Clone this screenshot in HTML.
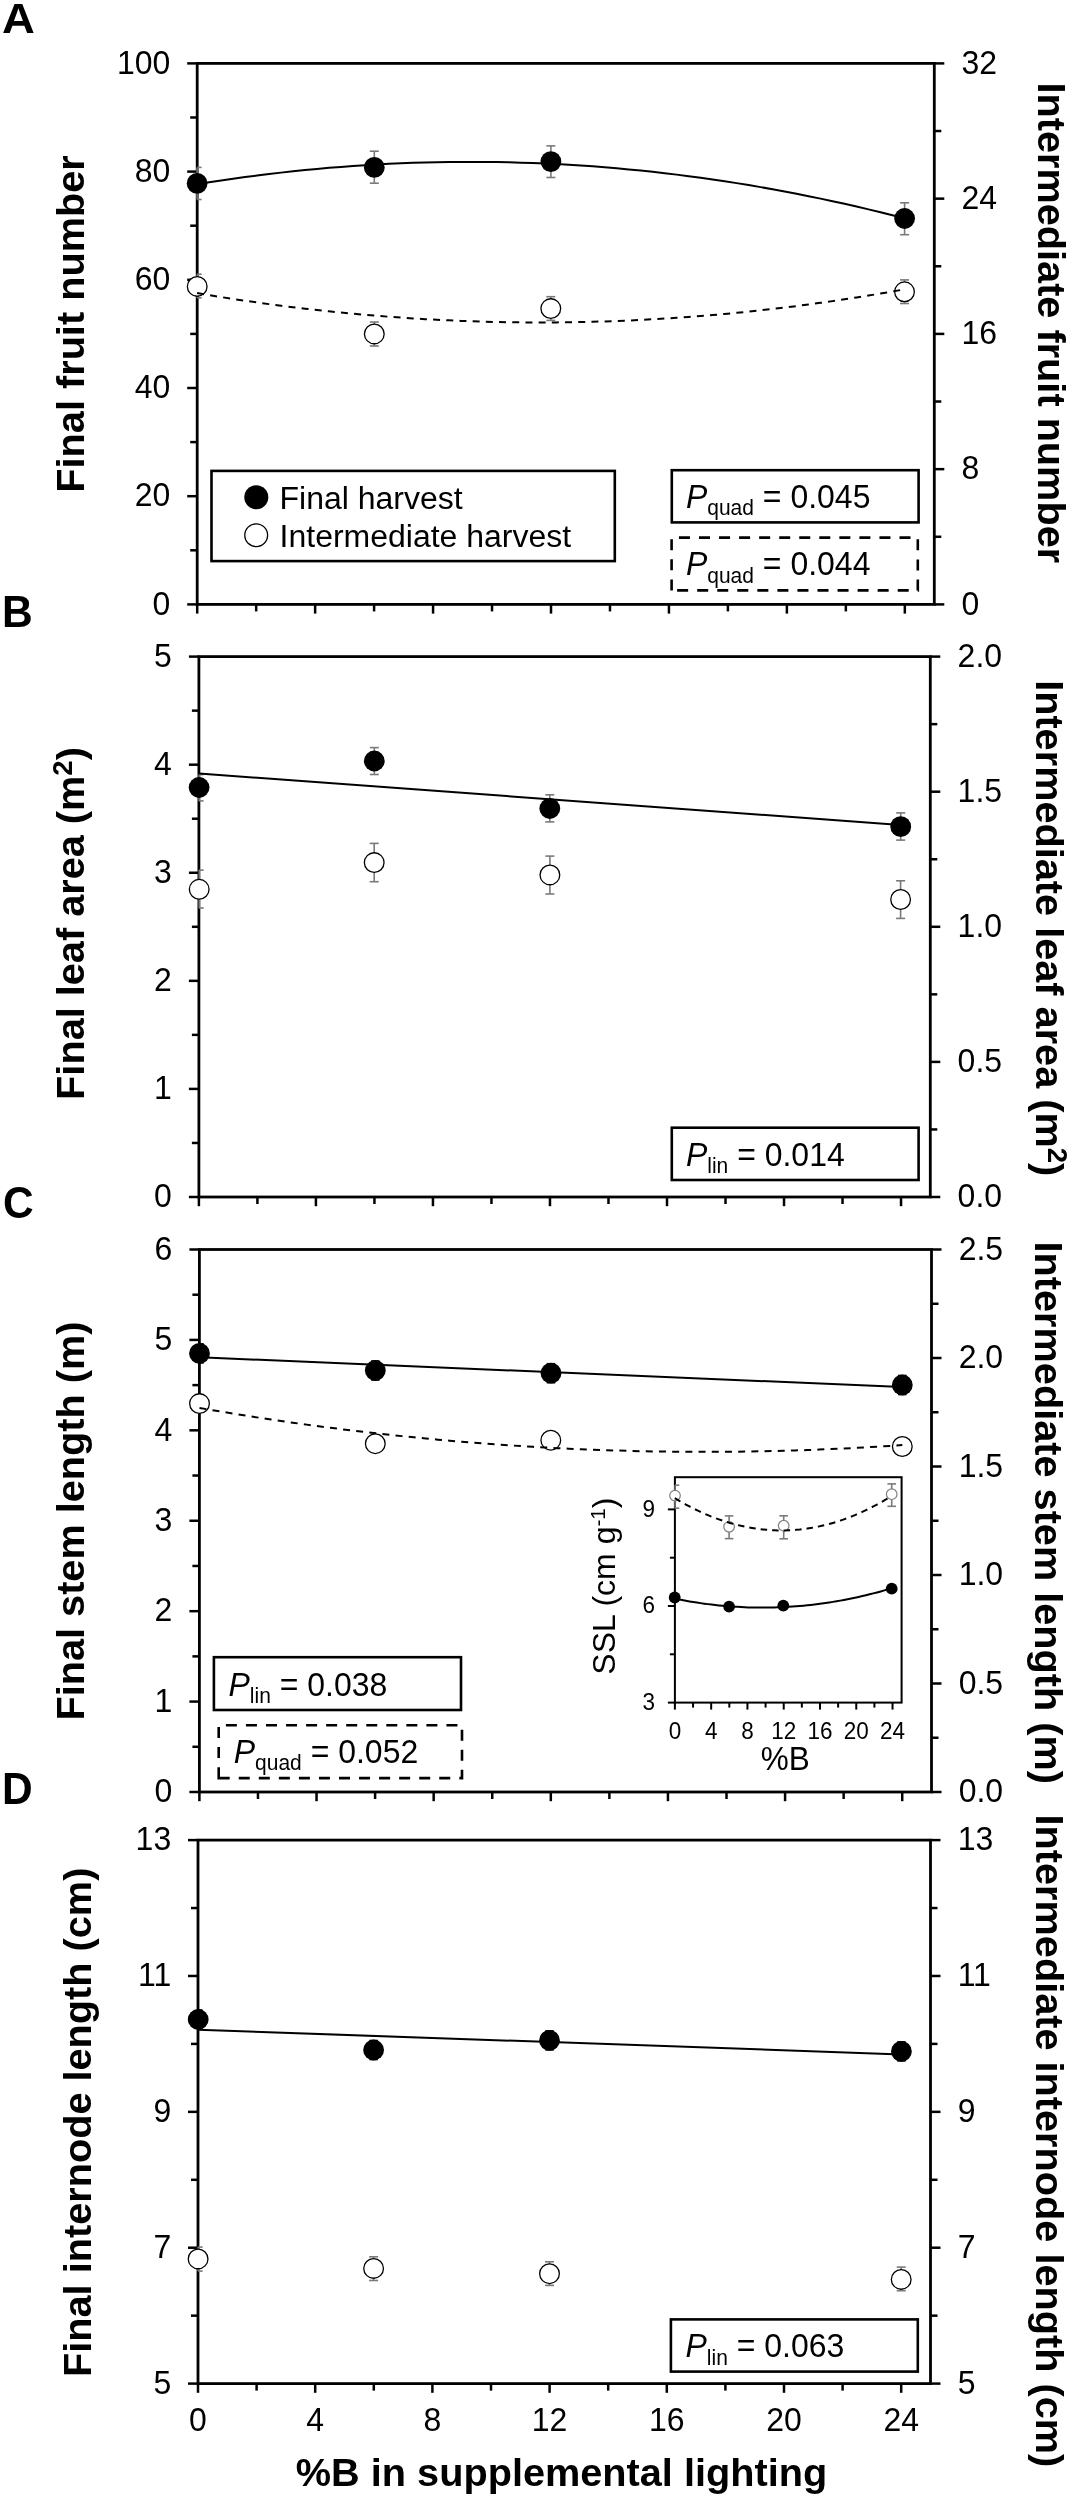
<!DOCTYPE html>
<html><head><meta charset="utf-8"><style>
html,body{margin:0;padding:0;background:#fff;width:1073px;height:2500px;overflow:hidden}
svg text{font-family:"Liberation Sans",sans-serif}
svg{will-change:transform}
</style></head><body>
<svg width="1073" height="2500" viewBox="0 0 1073 2500" style="position:absolute;left:0;top:0">
<g font-family="Liberation Sans, sans-serif" fill="#000">
<rect x="197.2" y="63.4" width="737.1" height="541" fill="none" stroke="#000" stroke-width="2.8"/>
<line x1="187.2" y1="604.4" x2="197.2" y2="604.4" stroke="#000" stroke-width="2.5" />
<text transform="translate(170.3,614.6) scale(1,1.035)" font-size="32" text-anchor="end" font-weight="normal" font-style="normal" >0</text>
<line x1="190.2" y1="550.3" x2="197.2" y2="550.3" stroke="#000" stroke-width="2.5" />
<line x1="187.2" y1="496.2" x2="197.2" y2="496.2" stroke="#000" stroke-width="2.5" />
<text transform="translate(170.3,506.4) scale(1,1.035)" font-size="32" text-anchor="end" font-weight="normal" font-style="normal" >20</text>
<line x1="190.2" y1="442.1" x2="197.2" y2="442.1" stroke="#000" stroke-width="2.5" />
<line x1="187.2" y1="388" x2="197.2" y2="388" stroke="#000" stroke-width="2.5" />
<text transform="translate(170.3,398.2) scale(1,1.035)" font-size="32" text-anchor="end" font-weight="normal" font-style="normal" >40</text>
<line x1="190.2" y1="333.9" x2="197.2" y2="333.9" stroke="#000" stroke-width="2.5" />
<line x1="187.2" y1="279.8" x2="197.2" y2="279.8" stroke="#000" stroke-width="2.5" />
<text transform="translate(170.3,290) scale(1,1.035)" font-size="32" text-anchor="end" font-weight="normal" font-style="normal" >60</text>
<line x1="190.2" y1="225.7" x2="197.2" y2="225.7" stroke="#000" stroke-width="2.5" />
<line x1="187.2" y1="171.6" x2="197.2" y2="171.6" stroke="#000" stroke-width="2.5" />
<text transform="translate(170.3,181.8) scale(1,1.035)" font-size="32" text-anchor="end" font-weight="normal" font-style="normal" >80</text>
<line x1="190.2" y1="117.5" x2="197.2" y2="117.5" stroke="#000" stroke-width="2.5" />
<line x1="187.2" y1="63.4" x2="197.2" y2="63.4" stroke="#000" stroke-width="2.5" />
<text transform="translate(170.3,73.6) scale(1,1.035)" font-size="32" text-anchor="end" font-weight="normal" font-style="normal" >100</text>
<line x1="934.3" y1="604.4" x2="944.3" y2="604.4" stroke="#000" stroke-width="2.5" />
<text transform="translate(961.4,614.6) scale(1,1.035)" font-size="32" text-anchor="start" font-weight="normal" font-style="normal" >0</text>
<line x1="934.3" y1="536.77" x2="941.3" y2="536.77" stroke="#000" stroke-width="2.5" />
<line x1="934.3" y1="469.15" x2="944.3" y2="469.15" stroke="#000" stroke-width="2.5" />
<text transform="translate(961.4,479.35) scale(1,1.035)" font-size="32" text-anchor="start" font-weight="normal" font-style="normal" >8</text>
<line x1="934.3" y1="401.52" x2="941.3" y2="401.52" stroke="#000" stroke-width="2.5" />
<line x1="934.3" y1="333.9" x2="944.3" y2="333.9" stroke="#000" stroke-width="2.5" />
<text transform="translate(961.4,344.1) scale(1,1.035)" font-size="32" text-anchor="start" font-weight="normal" font-style="normal" >16</text>
<line x1="934.3" y1="266.27" x2="941.3" y2="266.27" stroke="#000" stroke-width="2.5" />
<line x1="934.3" y1="198.65" x2="944.3" y2="198.65" stroke="#000" stroke-width="2.5" />
<text transform="translate(961.4,208.85) scale(1,1.035)" font-size="32" text-anchor="start" font-weight="normal" font-style="normal" >24</text>
<line x1="934.3" y1="131.02" x2="941.3" y2="131.02" stroke="#000" stroke-width="2.5" />
<line x1="934.3" y1="63.4" x2="944.3" y2="63.4" stroke="#000" stroke-width="2.5" />
<text transform="translate(961.4,73.6) scale(1,1.035)" font-size="32" text-anchor="start" font-weight="normal" font-style="normal" >32</text>
<line x1="197.2" y1="604.4" x2="197.2" y2="613.6" stroke="#000" stroke-width="2.5" />
<line x1="256.17" y1="604.4" x2="256.17" y2="611.4" stroke="#000" stroke-width="2.5" />
<line x1="315.14" y1="604.4" x2="315.14" y2="613.6" stroke="#000" stroke-width="2.5" />
<line x1="374.1" y1="604.4" x2="374.1" y2="611.4" stroke="#000" stroke-width="2.5" />
<line x1="433.07" y1="604.4" x2="433.07" y2="613.6" stroke="#000" stroke-width="2.5" />
<line x1="492.04" y1="604.4" x2="492.04" y2="611.4" stroke="#000" stroke-width="2.5" />
<line x1="551.01" y1="604.4" x2="551.01" y2="613.6" stroke="#000" stroke-width="2.5" />
<line x1="609.98" y1="604.4" x2="609.98" y2="611.4" stroke="#000" stroke-width="2.5" />
<line x1="668.94" y1="604.4" x2="668.94" y2="613.6" stroke="#000" stroke-width="2.5" />
<line x1="727.91" y1="604.4" x2="727.91" y2="611.4" stroke="#000" stroke-width="2.5" />
<line x1="786.88" y1="604.4" x2="786.88" y2="613.6" stroke="#000" stroke-width="2.5" />
<line x1="845.85" y1="604.4" x2="845.85" y2="611.4" stroke="#000" stroke-width="2.5" />
<line x1="904.82" y1="604.4" x2="904.82" y2="613.6" stroke="#000" stroke-width="2.5" />
<text transform="translate(2,33) scale(1.07,1.0)" font-size="42.5" font-weight="bold">A</text>
<rect x="198.9" y="656.6" width="731.4" height="540.4" fill="none" stroke="#000" stroke-width="2.8"/>
<line x1="188.9" y1="1197" x2="198.9" y2="1197" stroke="#000" stroke-width="2.5" />
<text transform="translate(171.8,1207.2) scale(1,1.035)" font-size="32" text-anchor="end" font-weight="normal" font-style="normal" >0</text>
<line x1="191.9" y1="1142.96" x2="198.9" y2="1142.96" stroke="#000" stroke-width="2.5" />
<line x1="188.9" y1="1088.92" x2="198.9" y2="1088.92" stroke="#000" stroke-width="2.5" />
<text transform="translate(171.8,1099.12) scale(1,1.035)" font-size="32" text-anchor="end" font-weight="normal" font-style="normal" >1</text>
<line x1="191.9" y1="1034.88" x2="198.9" y2="1034.88" stroke="#000" stroke-width="2.5" />
<line x1="188.9" y1="980.84" x2="198.9" y2="980.84" stroke="#000" stroke-width="2.5" />
<text transform="translate(171.8,991.04) scale(1,1.035)" font-size="32" text-anchor="end" font-weight="normal" font-style="normal" >2</text>
<line x1="191.9" y1="926.8" x2="198.9" y2="926.8" stroke="#000" stroke-width="2.5" />
<line x1="188.9" y1="872.76" x2="198.9" y2="872.76" stroke="#000" stroke-width="2.5" />
<text transform="translate(171.8,882.96) scale(1,1.035)" font-size="32" text-anchor="end" font-weight="normal" font-style="normal" >3</text>
<line x1="191.9" y1="818.72" x2="198.9" y2="818.72" stroke="#000" stroke-width="2.5" />
<line x1="188.9" y1="764.68" x2="198.9" y2="764.68" stroke="#000" stroke-width="2.5" />
<text transform="translate(171.8,774.88) scale(1,1.035)" font-size="32" text-anchor="end" font-weight="normal" font-style="normal" >4</text>
<line x1="191.9" y1="710.64" x2="198.9" y2="710.64" stroke="#000" stroke-width="2.5" />
<line x1="188.9" y1="656.6" x2="198.9" y2="656.6" stroke="#000" stroke-width="2.5" />
<text transform="translate(171.8,666.8) scale(1,1.035)" font-size="32" text-anchor="end" font-weight="normal" font-style="normal" >5</text>
<line x1="930.3" y1="1197" x2="940.3" y2="1197" stroke="#000" stroke-width="2.5" />
<text transform="translate(957.6,1207.2) scale(1,1.035)" font-size="32" text-anchor="start" font-weight="normal" font-style="normal" >0.0</text>
<line x1="930.3" y1="1129.45" x2="937.3" y2="1129.45" stroke="#000" stroke-width="2.5" />
<line x1="930.3" y1="1061.9" x2="940.3" y2="1061.9" stroke="#000" stroke-width="2.5" />
<text transform="translate(957.6,1072.1) scale(1,1.035)" font-size="32" text-anchor="start" font-weight="normal" font-style="normal" >0.5</text>
<line x1="930.3" y1="994.35" x2="937.3" y2="994.35" stroke="#000" stroke-width="2.5" />
<line x1="930.3" y1="926.8" x2="940.3" y2="926.8" stroke="#000" stroke-width="2.5" />
<text transform="translate(957.6,937) scale(1,1.035)" font-size="32" text-anchor="start" font-weight="normal" font-style="normal" >1.0</text>
<line x1="930.3" y1="859.25" x2="937.3" y2="859.25" stroke="#000" stroke-width="2.5" />
<line x1="930.3" y1="791.7" x2="940.3" y2="791.7" stroke="#000" stroke-width="2.5" />
<text transform="translate(957.6,801.9) scale(1,1.035)" font-size="32" text-anchor="start" font-weight="normal" font-style="normal" >1.5</text>
<line x1="930.3" y1="724.15" x2="937.3" y2="724.15" stroke="#000" stroke-width="2.5" />
<line x1="930.3" y1="656.6" x2="940.3" y2="656.6" stroke="#000" stroke-width="2.5" />
<text transform="translate(957.6,666.8) scale(1,1.035)" font-size="32" text-anchor="start" font-weight="normal" font-style="normal" >2.0</text>
<line x1="198.9" y1="1197" x2="198.9" y2="1206.2" stroke="#000" stroke-width="2.5" />
<line x1="257.41" y1="1197" x2="257.41" y2="1204" stroke="#000" stroke-width="2.5" />
<line x1="315.92" y1="1197" x2="315.92" y2="1206.2" stroke="#000" stroke-width="2.5" />
<line x1="374.44" y1="1197" x2="374.44" y2="1204" stroke="#000" stroke-width="2.5" />
<line x1="432.95" y1="1197" x2="432.95" y2="1206.2" stroke="#000" stroke-width="2.5" />
<line x1="491.46" y1="1197" x2="491.46" y2="1204" stroke="#000" stroke-width="2.5" />
<line x1="549.97" y1="1197" x2="549.97" y2="1206.2" stroke="#000" stroke-width="2.5" />
<line x1="608.48" y1="1197" x2="608.48" y2="1204" stroke="#000" stroke-width="2.5" />
<line x1="667" y1="1197" x2="667" y2="1206.2" stroke="#000" stroke-width="2.5" />
<line x1="725.51" y1="1197" x2="725.51" y2="1204" stroke="#000" stroke-width="2.5" />
<line x1="784.02" y1="1197" x2="784.02" y2="1206.2" stroke="#000" stroke-width="2.5" />
<line x1="842.53" y1="1197" x2="842.53" y2="1204" stroke="#000" stroke-width="2.5" />
<line x1="901.04" y1="1197" x2="901.04" y2="1206.2" stroke="#000" stroke-width="2.5" />
<text transform="translate(2,627) scale(1,1.035)" font-size="42.5" text-anchor="start" font-weight="bold" font-style="normal" >B</text>
<rect x="199.4" y="1249.5" width="732.1" height="542.5" fill="none" stroke="#000" stroke-width="2.8"/>
<line x1="189.4" y1="1792" x2="199.4" y2="1792" stroke="#000" stroke-width="2.5" />
<text transform="translate(172.4,1802.2) scale(1,1.035)" font-size="32" text-anchor="end" font-weight="normal" font-style="normal" >0</text>
<line x1="192.4" y1="1746.79" x2="199.4" y2="1746.79" stroke="#000" stroke-width="2.5" />
<line x1="189.4" y1="1701.58" x2="199.4" y2="1701.58" stroke="#000" stroke-width="2.5" />
<text transform="translate(172.4,1711.78) scale(1,1.035)" font-size="32" text-anchor="end" font-weight="normal" font-style="normal" >1</text>
<line x1="192.4" y1="1656.38" x2="199.4" y2="1656.38" stroke="#000" stroke-width="2.5" />
<line x1="189.4" y1="1611.17" x2="199.4" y2="1611.17" stroke="#000" stroke-width="2.5" />
<text transform="translate(172.4,1621.37) scale(1,1.035)" font-size="32" text-anchor="end" font-weight="normal" font-style="normal" >2</text>
<line x1="192.4" y1="1565.96" x2="199.4" y2="1565.96" stroke="#000" stroke-width="2.5" />
<line x1="189.4" y1="1520.75" x2="199.4" y2="1520.75" stroke="#000" stroke-width="2.5" />
<text transform="translate(172.4,1530.95) scale(1,1.035)" font-size="32" text-anchor="end" font-weight="normal" font-style="normal" >3</text>
<line x1="192.4" y1="1475.54" x2="199.4" y2="1475.54" stroke="#000" stroke-width="2.5" />
<line x1="189.4" y1="1430.33" x2="199.4" y2="1430.33" stroke="#000" stroke-width="2.5" />
<text transform="translate(172.4,1440.53) scale(1,1.035)" font-size="32" text-anchor="end" font-weight="normal" font-style="normal" >4</text>
<line x1="192.4" y1="1385.12" x2="199.4" y2="1385.12" stroke="#000" stroke-width="2.5" />
<line x1="189.4" y1="1339.92" x2="199.4" y2="1339.92" stroke="#000" stroke-width="2.5" />
<text transform="translate(172.4,1350.12) scale(1,1.035)" font-size="32" text-anchor="end" font-weight="normal" font-style="normal" >5</text>
<line x1="192.4" y1="1294.71" x2="199.4" y2="1294.71" stroke="#000" stroke-width="2.5" />
<line x1="189.4" y1="1249.5" x2="199.4" y2="1249.5" stroke="#000" stroke-width="2.5" />
<text transform="translate(172.4,1259.7) scale(1,1.035)" font-size="32" text-anchor="end" font-weight="normal" font-style="normal" >6</text>
<line x1="931.5" y1="1792" x2="941.5" y2="1792" stroke="#000" stroke-width="2.5" />
<text transform="translate(958.7,1802.2) scale(1,1.035)" font-size="32" text-anchor="start" font-weight="normal" font-style="normal" >0.0</text>
<line x1="931.5" y1="1737.75" x2="938.5" y2="1737.75" stroke="#000" stroke-width="2.5" />
<line x1="931.5" y1="1683.5" x2="941.5" y2="1683.5" stroke="#000" stroke-width="2.5" />
<text transform="translate(958.7,1693.7) scale(1,1.035)" font-size="32" text-anchor="start" font-weight="normal" font-style="normal" >0.5</text>
<line x1="931.5" y1="1629.25" x2="938.5" y2="1629.25" stroke="#000" stroke-width="2.5" />
<line x1="931.5" y1="1575" x2="941.5" y2="1575" stroke="#000" stroke-width="2.5" />
<text transform="translate(958.7,1585.2) scale(1,1.035)" font-size="32" text-anchor="start" font-weight="normal" font-style="normal" >1.0</text>
<line x1="931.5" y1="1520.75" x2="938.5" y2="1520.75" stroke="#000" stroke-width="2.5" />
<line x1="931.5" y1="1466.5" x2="941.5" y2="1466.5" stroke="#000" stroke-width="2.5" />
<text transform="translate(958.7,1476.7) scale(1,1.035)" font-size="32" text-anchor="start" font-weight="normal" font-style="normal" >1.5</text>
<line x1="931.5" y1="1412.25" x2="938.5" y2="1412.25" stroke="#000" stroke-width="2.5" />
<line x1="931.5" y1="1358" x2="941.5" y2="1358" stroke="#000" stroke-width="2.5" />
<text transform="translate(958.7,1368.2) scale(1,1.035)" font-size="32" text-anchor="start" font-weight="normal" font-style="normal" >2.0</text>
<line x1="931.5" y1="1303.75" x2="938.5" y2="1303.75" stroke="#000" stroke-width="2.5" />
<line x1="931.5" y1="1249.5" x2="941.5" y2="1249.5" stroke="#000" stroke-width="2.5" />
<text transform="translate(958.7,1259.7) scale(1,1.035)" font-size="32" text-anchor="start" font-weight="normal" font-style="normal" >2.5</text>
<line x1="199.4" y1="1792" x2="199.4" y2="1801.2" stroke="#000" stroke-width="2.5" />
<line x1="257.97" y1="1792" x2="257.97" y2="1799" stroke="#000" stroke-width="2.5" />
<line x1="316.54" y1="1792" x2="316.54" y2="1801.2" stroke="#000" stroke-width="2.5" />
<line x1="375.1" y1="1792" x2="375.1" y2="1799" stroke="#000" stroke-width="2.5" />
<line x1="433.67" y1="1792" x2="433.67" y2="1801.2" stroke="#000" stroke-width="2.5" />
<line x1="492.24" y1="1792" x2="492.24" y2="1799" stroke="#000" stroke-width="2.5" />
<line x1="550.81" y1="1792" x2="550.81" y2="1801.2" stroke="#000" stroke-width="2.5" />
<line x1="609.38" y1="1792" x2="609.38" y2="1799" stroke="#000" stroke-width="2.5" />
<line x1="667.94" y1="1792" x2="667.94" y2="1801.2" stroke="#000" stroke-width="2.5" />
<line x1="726.51" y1="1792" x2="726.51" y2="1799" stroke="#000" stroke-width="2.5" />
<line x1="785.08" y1="1792" x2="785.08" y2="1801.2" stroke="#000" stroke-width="2.5" />
<line x1="843.65" y1="1792" x2="843.65" y2="1799" stroke="#000" stroke-width="2.5" />
<line x1="902.22" y1="1792" x2="902.22" y2="1801.2" stroke="#000" stroke-width="2.5" />
<text transform="translate(3,1218) scale(1,1.035)" font-size="42.5" text-anchor="start" font-weight="bold" font-style="normal" >C</text>
<rect x="198" y="1840.1" width="732.5" height="543.5" fill="none" stroke="#000" stroke-width="2.8"/>
<line x1="188" y1="2383.6" x2="198" y2="2383.6" stroke="#000" stroke-width="2.5" />
<text transform="translate(171.2,2393.8) scale(1,1.035)" font-size="32" text-anchor="end" font-weight="normal" font-style="normal" >5</text>
<line x1="191" y1="2315.66" x2="198" y2="2315.66" stroke="#000" stroke-width="2.5" />
<line x1="188" y1="2247.72" x2="198" y2="2247.72" stroke="#000" stroke-width="2.5" />
<text transform="translate(171.2,2257.92) scale(1,1.035)" font-size="32" text-anchor="end" font-weight="normal" font-style="normal" >7</text>
<line x1="191" y1="2179.79" x2="198" y2="2179.79" stroke="#000" stroke-width="2.5" />
<line x1="188" y1="2111.85" x2="198" y2="2111.85" stroke="#000" stroke-width="2.5" />
<text transform="translate(171.2,2122.05) scale(1,1.035)" font-size="32" text-anchor="end" font-weight="normal" font-style="normal" >9</text>
<line x1="191" y1="2043.91" x2="198" y2="2043.91" stroke="#000" stroke-width="2.5" />
<line x1="188" y1="1975.97" x2="198" y2="1975.97" stroke="#000" stroke-width="2.5" />
<text transform="translate(171.2,1986.17) scale(1,1.035)" font-size="32" text-anchor="end" font-weight="normal" font-style="normal" >11</text>
<line x1="191" y1="1908.04" x2="198" y2="1908.04" stroke="#000" stroke-width="2.5" />
<line x1="188" y1="1840.1" x2="198" y2="1840.1" stroke="#000" stroke-width="2.5" />
<text transform="translate(171.2,1850.3) scale(1,1.035)" font-size="32" text-anchor="end" font-weight="normal" font-style="normal" >13</text>
<line x1="930.5" y1="2383.6" x2="940.5" y2="2383.6" stroke="#000" stroke-width="2.5" />
<text transform="translate(957.7,2393.8) scale(1,1.035)" font-size="32" text-anchor="start" font-weight="normal" font-style="normal" >5</text>
<line x1="930.5" y1="2315.66" x2="937.5" y2="2315.66" stroke="#000" stroke-width="2.5" />
<line x1="930.5" y1="2247.72" x2="940.5" y2="2247.72" stroke="#000" stroke-width="2.5" />
<text transform="translate(957.7,2257.92) scale(1,1.035)" font-size="32" text-anchor="start" font-weight="normal" font-style="normal" >7</text>
<line x1="930.5" y1="2179.79" x2="937.5" y2="2179.79" stroke="#000" stroke-width="2.5" />
<line x1="930.5" y1="2111.85" x2="940.5" y2="2111.85" stroke="#000" stroke-width="2.5" />
<text transform="translate(957.7,2122.05) scale(1,1.035)" font-size="32" text-anchor="start" font-weight="normal" font-style="normal" >9</text>
<line x1="930.5" y1="2043.91" x2="937.5" y2="2043.91" stroke="#000" stroke-width="2.5" />
<line x1="930.5" y1="1975.97" x2="940.5" y2="1975.97" stroke="#000" stroke-width="2.5" />
<text transform="translate(957.7,1986.17) scale(1,1.035)" font-size="32" text-anchor="start" font-weight="normal" font-style="normal" >11</text>
<line x1="930.5" y1="1908.04" x2="937.5" y2="1908.04" stroke="#000" stroke-width="2.5" />
<line x1="930.5" y1="1840.1" x2="940.5" y2="1840.1" stroke="#000" stroke-width="2.5" />
<text transform="translate(957.7,1850.3) scale(1,1.035)" font-size="32" text-anchor="start" font-weight="normal" font-style="normal" >13</text>
<line x1="198" y1="2383.6" x2="198" y2="2392.8" stroke="#000" stroke-width="2.5" />
<line x1="256.6" y1="2383.6" x2="256.6" y2="2390.6" stroke="#000" stroke-width="2.5" />
<line x1="315.2" y1="2383.6" x2="315.2" y2="2392.8" stroke="#000" stroke-width="2.5" />
<line x1="373.8" y1="2383.6" x2="373.8" y2="2390.6" stroke="#000" stroke-width="2.5" />
<line x1="432.4" y1="2383.6" x2="432.4" y2="2392.8" stroke="#000" stroke-width="2.5" />
<line x1="491" y1="2383.6" x2="491" y2="2390.6" stroke="#000" stroke-width="2.5" />
<line x1="549.6" y1="2383.6" x2="549.6" y2="2392.8" stroke="#000" stroke-width="2.5" />
<line x1="608.2" y1="2383.6" x2="608.2" y2="2390.6" stroke="#000" stroke-width="2.5" />
<line x1="666.8" y1="2383.6" x2="666.8" y2="2392.8" stroke="#000" stroke-width="2.5" />
<line x1="725.4" y1="2383.6" x2="725.4" y2="2390.6" stroke="#000" stroke-width="2.5" />
<line x1="784" y1="2383.6" x2="784" y2="2392.8" stroke="#000" stroke-width="2.5" />
<line x1="842.6" y1="2383.6" x2="842.6" y2="2390.6" stroke="#000" stroke-width="2.5" />
<line x1="901.2" y1="2383.6" x2="901.2" y2="2392.8" stroke="#000" stroke-width="2.5" />
<text transform="translate(2,1803.7) scale(1,1.035)" font-size="42.5" text-anchor="start" font-weight="bold" font-style="normal" >D</text>
<line x1="197.1" y1="167.4" x2="197.1" y2="199.5" stroke="#7a7a7a" stroke-width="1.6"/>
<line x1="197.2" y1="167.4" x2="201.6" y2="167.4" stroke="#7a7a7a" stroke-width="1.6"/>
<line x1="197.2" y1="199.5" x2="201.6" y2="199.5" stroke="#7a7a7a" stroke-width="1.6"/>
<line x1="374.3" y1="151.2" x2="374.3" y2="183.2" stroke="#7a7a7a" stroke-width="1.6"/>
<line x1="369.8" y1="151.2" x2="378.8" y2="151.2" stroke="#7a7a7a" stroke-width="1.6"/>
<line x1="369.8" y1="183.2" x2="378.8" y2="183.2" stroke="#7a7a7a" stroke-width="1.6"/>
<line x1="550.9" y1="145.9" x2="550.9" y2="177.5" stroke="#7a7a7a" stroke-width="1.6"/>
<line x1="546.4" y1="145.9" x2="555.4" y2="145.9" stroke="#7a7a7a" stroke-width="1.6"/>
<line x1="546.4" y1="177.5" x2="555.4" y2="177.5" stroke="#7a7a7a" stroke-width="1.6"/>
<line x1="904.6" y1="202.8" x2="904.6" y2="234.7" stroke="#7a7a7a" stroke-width="1.6"/>
<line x1="900.1" y1="202.8" x2="909.1" y2="202.8" stroke="#7a7a7a" stroke-width="1.6"/>
<line x1="900.1" y1="234.7" x2="909.1" y2="234.7" stroke="#7a7a7a" stroke-width="1.6"/>
<line x1="197.2" y1="274.2" x2="197.2" y2="297.8" stroke="#7a7a7a" stroke-width="1.6"/>
<line x1="197.2" y1="274.2" x2="201.7" y2="274.2" stroke="#7a7a7a" stroke-width="1.6"/>
<line x1="197.2" y1="297.8" x2="201.7" y2="297.8" stroke="#7a7a7a" stroke-width="1.6"/>
<line x1="374.3" y1="322" x2="374.3" y2="346" stroke="#7a7a7a" stroke-width="1.6"/>
<line x1="369.8" y1="322" x2="378.8" y2="322" stroke="#7a7a7a" stroke-width="1.6"/>
<line x1="369.8" y1="346" x2="378.8" y2="346" stroke="#7a7a7a" stroke-width="1.6"/>
<line x1="550.8" y1="296.7" x2="550.8" y2="320.4" stroke="#7a7a7a" stroke-width="1.6"/>
<line x1="546.3" y1="296.7" x2="555.3" y2="296.7" stroke="#7a7a7a" stroke-width="1.6"/>
<line x1="546.3" y1="320.4" x2="555.3" y2="320.4" stroke="#7a7a7a" stroke-width="1.6"/>
<line x1="904.5" y1="279.9" x2="904.5" y2="303.5" stroke="#7a7a7a" stroke-width="1.6"/>
<line x1="900" y1="279.9" x2="909" y2="279.9" stroke="#7a7a7a" stroke-width="1.6"/>
<line x1="900" y1="303.5" x2="909" y2="303.5" stroke="#7a7a7a" stroke-width="1.6"/>
<circle cx="197.2" cy="286.4" r="9.85" fill="#fff" stroke="#000" stroke-width="1.3"/>
<circle cx="374.3" cy="333.9" r="9.85" fill="#fff" stroke="#000" stroke-width="1.3"/>
<circle cx="550.8" cy="308.6" r="9.85" fill="#fff" stroke="#000" stroke-width="1.3"/>
<circle cx="904.5" cy="291.8" r="9.85" fill="#fff" stroke="#000" stroke-width="1.3"/>
<circle cx="197.1" cy="183.4" r="10.4" fill="#000"/>
<circle cx="374.3" cy="167.4" r="10.4" fill="#000"/>
<circle cx="550.9" cy="161.6" r="10.4" fill="#000"/>
<circle cx="904.6" cy="218.5" r="10.4" fill="#000"/>
<path d="M197.1,184.25 L209.09,182.33 L221.08,180.5 L233.07,178.75 L245.06,177.09 L257.05,175.51 L269.04,174.02 L281.03,172.62 L293.02,171.3 L305.01,170.07 L317,168.93 L328.99,167.87 L340.98,166.9 L352.97,166.01 L364.96,165.21 L376.95,164.5 L388.94,163.87 L400.93,163.33 L412.92,162.87 L424.91,162.5 L436.9,162.22 L448.89,162.02 L460.88,161.91 L472.87,161.88 L484.86,161.94 L496.85,162.09 L508.84,162.32 L520.83,162.64 L532.82,163.05 L544.81,163.54 L556.79,164.12 L568.78,164.78 L580.77,165.53 L592.76,166.37 L604.75,167.29 L616.74,168.3 L628.73,169.39 L640.72,170.57 L652.71,171.84 L664.7,173.19 L676.69,174.63 L688.68,176.16 L700.67,177.77 L712.66,179.47 L724.65,181.25 L736.64,183.12 L748.63,185.08 L760.62,187.12 L772.61,189.25 L784.6,191.46 L796.59,193.76 L808.58,196.15 L820.57,198.62 L832.56,201.18 L844.55,203.82 L856.54,206.55 L868.53,209.37 L880.52,212.27 L892.51,215.26 L904.5,218.34" fill="none" stroke="#000" stroke-width="2.0"/>
<path d="M197.1,293.1 L209.09,295.12 L221.08,297.06 L233.07,298.94 L245.06,300.74 L257.05,302.46 L269.04,304.12 L281.03,305.71 L293.02,307.22 L305.01,308.66 L317,310.03 L328.99,311.33 L340.98,312.56 L352.97,313.71 L364.96,314.8 L376.95,315.81 L388.94,316.75 L400.93,317.62 L412.92,318.41 L424.91,319.14 L436.9,319.79 L448.89,320.37 L460.88,320.88 L472.87,321.32 L484.86,321.69 L496.85,321.98 L508.84,322.2 L520.83,322.35 L532.82,322.43 L544.81,322.44 L556.79,322.38 L568.78,322.24 L580.77,322.04 L592.76,321.76 L604.75,321.41 L616.74,320.98 L628.73,320.49 L640.72,319.93 L652.71,319.29 L664.7,318.58 L676.69,317.8 L688.68,316.95 L700.67,316.02 L712.66,315.03 L724.65,313.96 L736.64,312.82 L748.63,311.61 L760.62,310.33 L772.61,308.97 L784.6,307.55 L796.59,306.05 L808.58,304.48 L820.57,302.84 L832.56,301.13 L844.55,299.34 L856.54,297.49 L868.53,295.56 L880.52,293.56 L892.51,291.49 L904.5,289.34" fill="none" stroke="#000" stroke-width="2.0" stroke-dasharray="7 6.2"/>
<rect x="211.5" y="470.9" width="403.3" height="90.2" fill="#fff" stroke="#000" stroke-width="2.6"/>
<circle cx="256.3" cy="497.3" r="12" fill="#000"/>
<circle cx="256.2" cy="535.2" r="11.4" fill="#fff" stroke="#000" stroke-width="1.3"/>
<text transform="translate(279.5,508.7) scale(1,0.99)" font-size="32" text-anchor="start" font-weight="normal" font-style="normal" >Final harvest</text>
<text transform="translate(279.6,546.9) scale(1,0.99)" font-size="32" text-anchor="start" font-weight="normal" font-style="normal" >Intermediate harvest</text>
<rect x="671.8" y="470.2" width="246.8" height="52.2" fill="#fff" stroke="#000" stroke-width="2.6"/>
<text transform="translate(685.9,507.8) scale(1,1.035)" font-size="32" text-anchor="start" font-weight="normal" font-style="normal" ><tspan font-style="italic">P</tspan><tspan font-size="21" dy="7.3">quad</tspan><tspan dy="-7.3"> = 0.045</tspan></text>
<path d="M671.6,590.4 L671.6,537.6 L917.8,537.6 L917.8,590.4 Z" fill="none" stroke="#000" stroke-width="2.6" stroke-dasharray="11 9.05" stroke-linejoin="miter"/>
<text transform="translate(685.9,575.2) scale(1,1.035)" font-size="32" text-anchor="start" font-weight="normal" font-style="normal" ><tspan font-style="italic">P</tspan><tspan font-size="21" dy="7.3">quad</tspan><tspan dy="-7.3"> = 0.044</tspan></text>
<text transform="translate(84,324) rotate(-90) scale(1,0.985)" font-size="39.7" text-anchor="middle" font-weight="bold" font-style="normal" >Final fruit number</text>
<text transform="translate(1038,322.8) rotate(90) scale(1,0.985)" font-size="39.7" text-anchor="middle" font-weight="bold" font-style="normal" >Intermediate fruit number</text>
<line x1="199.1" y1="774.6" x2="199.1" y2="800.9" stroke="#7a7a7a" stroke-width="1.6"/>
<line x1="198.9" y1="774.6" x2="203.6" y2="774.6" stroke="#7a7a7a" stroke-width="1.6"/>
<line x1="198.9" y1="800.9" x2="203.6" y2="800.9" stroke="#7a7a7a" stroke-width="1.6"/>
<line x1="374.3" y1="747.6" x2="374.3" y2="774.5" stroke="#7a7a7a" stroke-width="1.6"/>
<line x1="369.8" y1="747.6" x2="378.8" y2="747.6" stroke="#7a7a7a" stroke-width="1.6"/>
<line x1="369.8" y1="774.5" x2="378.8" y2="774.5" stroke="#7a7a7a" stroke-width="1.6"/>
<line x1="549.8" y1="794.8" x2="549.8" y2="821.9" stroke="#7a7a7a" stroke-width="1.6"/>
<line x1="545.3" y1="794.8" x2="554.3" y2="794.8" stroke="#7a7a7a" stroke-width="1.6"/>
<line x1="545.3" y1="821.9" x2="554.3" y2="821.9" stroke="#7a7a7a" stroke-width="1.6"/>
<line x1="900.7" y1="812.9" x2="900.7" y2="840.1" stroke="#7a7a7a" stroke-width="1.6"/>
<line x1="896.2" y1="812.9" x2="905.2" y2="812.9" stroke="#7a7a7a" stroke-width="1.6"/>
<line x1="896.2" y1="840.1" x2="905.2" y2="840.1" stroke="#7a7a7a" stroke-width="1.6"/>
<line x1="199.2" y1="870.1" x2="199.2" y2="908" stroke="#7a7a7a" stroke-width="1.6"/>
<line x1="198.9" y1="870.1" x2="203.7" y2="870.1" stroke="#7a7a7a" stroke-width="1.6"/>
<line x1="198.9" y1="908" x2="203.7" y2="908" stroke="#7a7a7a" stroke-width="1.6"/>
<line x1="374.2" y1="843.4" x2="374.2" y2="881.7" stroke="#7a7a7a" stroke-width="1.6"/>
<line x1="369.7" y1="843.4" x2="378.7" y2="843.4" stroke="#7a7a7a" stroke-width="1.6"/>
<line x1="369.7" y1="881.7" x2="378.7" y2="881.7" stroke="#7a7a7a" stroke-width="1.6"/>
<line x1="549.9" y1="856.1" x2="549.9" y2="894" stroke="#7a7a7a" stroke-width="1.6"/>
<line x1="545.4" y1="856.1" x2="554.4" y2="856.1" stroke="#7a7a7a" stroke-width="1.6"/>
<line x1="545.4" y1="894" x2="554.4" y2="894" stroke="#7a7a7a" stroke-width="1.6"/>
<line x1="900.6" y1="880.8" x2="900.6" y2="918.4" stroke="#7a7a7a" stroke-width="1.6"/>
<line x1="896.1" y1="880.8" x2="905.1" y2="880.8" stroke="#7a7a7a" stroke-width="1.6"/>
<line x1="896.1" y1="918.4" x2="905.1" y2="918.4" stroke="#7a7a7a" stroke-width="1.6"/>
<circle cx="199.2" cy="889.3" r="9.85" fill="#fff" stroke="#000" stroke-width="1.3"/>
<circle cx="374.2" cy="862.6" r="9.85" fill="#fff" stroke="#000" stroke-width="1.3"/>
<circle cx="549.9" cy="874.9" r="9.85" fill="#fff" stroke="#000" stroke-width="1.3"/>
<circle cx="900.6" cy="899.5" r="9.85" fill="#fff" stroke="#000" stroke-width="1.3"/>
<circle cx="199.1" cy="787.5" r="10.4" fill="#000"/>
<circle cx="374.3" cy="761" r="10.4" fill="#000"/>
<circle cx="549.8" cy="808.5" r="10.4" fill="#000"/>
<circle cx="900.7" cy="826.7" r="10.4" fill="#000"/>
<path d="M199.0,773.5 L900.5,824.9" fill="none" stroke="#000" stroke-width="2.0"/>
<rect x="671.8" y="1127.7" width="246.8" height="52.3" fill="#fff" stroke="#000" stroke-width="2.6"/>
<text transform="translate(685.9,1165.9) scale(1,1.035)" font-size="32" text-anchor="start" font-weight="normal" font-style="normal" ><tspan font-style="italic">P</tspan><tspan font-size="21" dy="7.3">lin</tspan><tspan dy="-7.3"> = 0.014</tspan></text>
<text transform="translate(84.4,923.5) rotate(-90) scale(1,0.985)" font-size="39.7" text-anchor="middle" font-weight="bold" font-style="normal" >Final leaf area (m<tspan dy="-12.6" font-size="27.5">2</tspan><tspan dy="12.6">)</tspan></text>
<text transform="translate(1036.2,928.2) rotate(90) scale(1,0.985)" font-size="39.7" text-anchor="middle" font-weight="bold" font-style="normal" >Intermediate leaf area (m<tspan dy="-12.1" font-size="27.5">2</tspan><tspan dy="12.1">)</tspan></text>
<circle cx="199.5" cy="1403.6" r="9.85" fill="#fff" stroke="#000" stroke-width="1.3"/>
<circle cx="375.3" cy="1443.7" r="9.85" fill="#fff" stroke="#000" stroke-width="1.3"/>
<circle cx="550.8" cy="1440.2" r="9.85" fill="#fff" stroke="#000" stroke-width="1.3"/>
<circle cx="902.3" cy="1446.5" r="9.85" fill="#fff" stroke="#000" stroke-width="1.3"/>
<circle cx="199.5" cy="1353.4" r="10.4" fill="#000"/>
<line x1="199.5" y1="1343.9" x2="199.5" y2="1362.9" stroke="#000" stroke-width="1.6"/>
<line x1="199.4" y1="1343.9" x2="203.7" y2="1343.9" stroke="#000" stroke-width="1.6"/>
<line x1="199.4" y1="1362.9" x2="203.7" y2="1362.9" stroke="#000" stroke-width="1.6"/>
<circle cx="375.3" cy="1370.5" r="10.4" fill="#000"/>
<line x1="375.3" y1="1361" x2="375.3" y2="1380" stroke="#000" stroke-width="1.6"/>
<line x1="371.1" y1="1361" x2="379.5" y2="1361" stroke="#000" stroke-width="1.6"/>
<line x1="371.1" y1="1380" x2="379.5" y2="1380" stroke="#000" stroke-width="1.6"/>
<circle cx="551" cy="1373.2" r="10.4" fill="#000"/>
<line x1="551" y1="1363.7" x2="551" y2="1382.7" stroke="#000" stroke-width="1.6"/>
<line x1="546.8" y1="1363.7" x2="555.2" y2="1363.7" stroke="#000" stroke-width="1.6"/>
<line x1="546.8" y1="1382.7" x2="555.2" y2="1382.7" stroke="#000" stroke-width="1.6"/>
<circle cx="902.3" cy="1385" r="10.4" fill="#000"/>
<line x1="902.3" y1="1375.5" x2="902.3" y2="1394.5" stroke="#000" stroke-width="1.6"/>
<line x1="898.1" y1="1375.5" x2="906.5" y2="1375.5" stroke="#000" stroke-width="1.6"/>
<line x1="898.1" y1="1394.5" x2="906.5" y2="1394.5" stroke="#000" stroke-width="1.6"/>
<path d="M199.5,1357.3 L902.3,1387.0" fill="none" stroke="#000" stroke-width="2.0"/>
<path d="M199.5,1407.94 L211.41,1409.99 L223.32,1411.99 L235.24,1413.94 L247.15,1415.85 L259.06,1417.7 L270.97,1419.51 L282.88,1421.26 L294.79,1422.97 L306.71,1424.63 L318.62,1426.24 L330.53,1427.8 L342.44,1429.31 L354.35,1430.77 L366.27,1432.18 L378.18,1433.55 L390.09,1434.86 L402,1436.13 L413.91,1437.34 L425.83,1438.51 L437.74,1439.63 L449.65,1440.7 L461.56,1441.72 L473.47,1442.7 L485.38,1443.62 L497.3,1444.49 L509.21,1445.32 L521.12,1446.1 L533.03,1446.82 L544.94,1447.5 L556.86,1448.13 L568.77,1448.71 L580.68,1449.24 L592.59,1449.73 L604.5,1450.16 L616.42,1450.54 L628.33,1450.88 L640.24,1451.17 L652.15,1451.4 L664.06,1451.59 L675.97,1451.73 L687.89,1451.82 L699.8,1451.87 L711.71,1451.86 L723.62,1451.8 L735.53,1451.7 L747.45,1451.54 L759.36,1451.34 L771.27,1451.09 L783.18,1450.79 L795.09,1450.44 L807.01,1450.04 L818.92,1449.59 L830.83,1449.1 L842.74,1448.55 L854.65,1447.96 L866.56,1447.31 L878.48,1446.62 L890.39,1445.88 L902.3,1445.09" fill="none" stroke="#000" stroke-width="2.0" stroke-dasharray="7 6.2"/>
<rect x="213.9" y="1657.2" width="247.1" height="52.8" fill="#fff" stroke="#000" stroke-width="2.6"/>
<text transform="translate(228.5,1695.7) scale(1,1.035)" font-size="32" text-anchor="start" font-weight="normal" font-style="normal" ><tspan font-style="italic">P</tspan><tspan font-size="21" dy="7.3">lin</tspan><tspan dy="-7.3"> = 0.038</tspan></text>
<path d="M218.7,1778.1 L462,1778.1 L462,1725.2 L218.7,1725.2 Z" fill="none" stroke="#000" stroke-width="2.6" stroke-dasharray="11 9.05" stroke-linejoin="miter"/>
<text transform="translate(233.7,1762.9) scale(1,1.035)" font-size="32" text-anchor="start" font-weight="normal" font-style="normal" ><tspan font-style="italic">P</tspan><tspan font-size="21" dy="7.3">quad</tspan><tspan dy="-7.3"> = 0.052</tspan></text>
<text transform="translate(84.4,1521) rotate(-90) scale(1,0.985)" font-size="39.7" text-anchor="middle" font-weight="bold" font-style="normal" >Final stem length (m)</text>
<text transform="translate(1034.5,1512.8) rotate(90) scale(1,0.985)" font-size="39.7" text-anchor="middle" font-weight="bold" font-style="normal" >Intermediate stem length (m)</text>
<rect x="674.9" y="1477.2" width="226.7" height="225.4" fill="#fff" stroke="#000" stroke-width="2"/>
<line x1="667.9" y1="1702.6" x2="674.9" y2="1702.6" stroke="#000" stroke-width="2" />
<text transform="translate(655,1709.8) scale(1,1.035)" font-size="22.5" text-anchor="end" font-weight="normal" font-style="normal" >3</text>
<line x1="669.9" y1="1654.3" x2="674.9" y2="1654.3" stroke="#000" stroke-width="2" />
<line x1="667.9" y1="1606" x2="674.9" y2="1606" stroke="#000" stroke-width="2" />
<text transform="translate(655,1613.2) scale(1,1.035)" font-size="22.5" text-anchor="end" font-weight="normal" font-style="normal" >6</text>
<line x1="669.9" y1="1557.7" x2="674.9" y2="1557.7" stroke="#000" stroke-width="2" />
<line x1="667.9" y1="1509.4" x2="674.9" y2="1509.4" stroke="#000" stroke-width="2" />
<text transform="translate(655,1516.6) scale(1,1.035)" font-size="22.5" text-anchor="end" font-weight="normal" font-style="normal" >9</text>
<line x1="674.9" y1="1702.6" x2="674.9" y2="1709.6" stroke="#000" stroke-width="2" />
<text transform="translate(674.9,1738.6) scale(1,1.035)" font-size="22.5" text-anchor="middle" font-weight="normal" font-style="normal" >0</text>
<line x1="693.04" y1="1702.6" x2="693.04" y2="1707.6" stroke="#000" stroke-width="2" />
<line x1="711.17" y1="1702.6" x2="711.17" y2="1709.6" stroke="#000" stroke-width="2" />
<text transform="translate(711.17,1738.6) scale(1,1.035)" font-size="22.5" text-anchor="middle" font-weight="normal" font-style="normal" >4</text>
<line x1="729.31" y1="1702.6" x2="729.31" y2="1707.6" stroke="#000" stroke-width="2" />
<line x1="747.44" y1="1702.6" x2="747.44" y2="1709.6" stroke="#000" stroke-width="2" />
<text transform="translate(747.44,1738.6) scale(1,1.035)" font-size="22.5" text-anchor="middle" font-weight="normal" font-style="normal" >8</text>
<line x1="765.58" y1="1702.6" x2="765.58" y2="1707.6" stroke="#000" stroke-width="2" />
<line x1="783.72" y1="1702.6" x2="783.72" y2="1709.6" stroke="#000" stroke-width="2" />
<text transform="translate(783.72,1738.6) scale(1,1.035)" font-size="22.5" text-anchor="middle" font-weight="normal" font-style="normal" >12</text>
<line x1="801.85" y1="1702.6" x2="801.85" y2="1707.6" stroke="#000" stroke-width="2" />
<line x1="819.99" y1="1702.6" x2="819.99" y2="1709.6" stroke="#000" stroke-width="2" />
<text transform="translate(819.99,1738.6) scale(1,1.035)" font-size="22.5" text-anchor="middle" font-weight="normal" font-style="normal" >16</text>
<line x1="838.12" y1="1702.6" x2="838.12" y2="1707.6" stroke="#000" stroke-width="2" />
<line x1="856.26" y1="1702.6" x2="856.26" y2="1709.6" stroke="#000" stroke-width="2" />
<text transform="translate(856.26,1738.6) scale(1,1.035)" font-size="22.5" text-anchor="middle" font-weight="normal" font-style="normal" >20</text>
<line x1="874.4" y1="1702.6" x2="874.4" y2="1707.6" stroke="#000" stroke-width="2" />
<line x1="892.53" y1="1702.6" x2="892.53" y2="1709.6" stroke="#000" stroke-width="2" />
<text transform="translate(892.53,1738.6) scale(1,1.035)" font-size="22.5" text-anchor="middle" font-weight="normal" font-style="normal" >24</text>
<text transform="translate(785.2,1769.9) scale(1,1.035)" font-size="31.5" text-anchor="middle" font-weight="normal" font-style="normal" >%B</text>
<text transform="translate(614.8,1586.2) rotate(-90) scale(1,0.99)" font-size="32" text-anchor="middle" font-weight="normal" font-style="normal" >SSL (cm g<tspan dy="-10" font-size="20.5">-1</tspan><tspan dy="10">)</tspan></text>
<line x1="675" y1="1485.2" x2="675" y2="1508.2" stroke="#7a7a7a" stroke-width="1.6"/>
<line x1="674.9" y1="1485.2" x2="679.3" y2="1485.2" stroke="#7a7a7a" stroke-width="1.6"/>
<line x1="674.9" y1="1508.2" x2="679.3" y2="1508.2" stroke="#7a7a7a" stroke-width="1.6"/>
<line x1="729.1" y1="1515.9" x2="729.1" y2="1538.6" stroke="#7a7a7a" stroke-width="1.6"/>
<line x1="724.8" y1="1515.9" x2="733.4" y2="1515.9" stroke="#7a7a7a" stroke-width="1.6"/>
<line x1="724.8" y1="1538.6" x2="733.4" y2="1538.6" stroke="#7a7a7a" stroke-width="1.6"/>
<line x1="783.7" y1="1515.8" x2="783.7" y2="1538.8" stroke="#7a7a7a" stroke-width="1.6"/>
<line x1="779.4" y1="1515.8" x2="788" y2="1515.8" stroke="#7a7a7a" stroke-width="1.6"/>
<line x1="779.4" y1="1538.8" x2="788" y2="1538.8" stroke="#7a7a7a" stroke-width="1.6"/>
<line x1="891.7" y1="1483.9" x2="891.7" y2="1506.3" stroke="#7a7a7a" stroke-width="1.6"/>
<line x1="887.4" y1="1483.9" x2="896" y2="1483.9" stroke="#7a7a7a" stroke-width="1.6"/>
<line x1="887.4" y1="1506.3" x2="896" y2="1506.3" stroke="#7a7a7a" stroke-width="1.6"/>
<circle cx="675" cy="1495.6" r="5.3" fill="#fff" stroke="#808080" stroke-width="1.2"/>
<circle cx="729.1" cy="1526.8" r="5.3" fill="#fff" stroke="#808080" stroke-width="1.2"/>
<circle cx="783.7" cy="1525.7" r="5.3" fill="#fff" stroke="#808080" stroke-width="1.2"/>
<circle cx="891.7" cy="1494.2" r="5.3" fill="#fff" stroke="#808080" stroke-width="1.2"/>
<circle cx="674.7" cy="1597.5" r="5.9" fill="#000"/>
<circle cx="729.1" cy="1606.6" r="5.9" fill="#000"/>
<circle cx="783.3" cy="1605.6" r="5.9" fill="#000"/>
<circle cx="891.7" cy="1588.7" r="5.9" fill="#000"/>
<path d="M674.8,1598.65 L678.48,1599.38 L682.15,1600.09 L685.83,1600.76 L689.51,1601.4 L693.18,1602.01 L696.86,1602.59 L700.53,1603.13 L704.21,1603.65 L707.89,1604.13 L711.56,1604.59 L715.24,1605.01 L718.92,1605.4 L722.59,1605.75 L726.27,1606.08 L729.94,1606.38 L733.62,1606.64 L737.3,1606.87 L740.97,1607.07 L744.65,1607.24 L748.33,1607.38 L752,1607.49 L755.68,1607.56 L759.35,1607.61 L763.03,1607.62 L766.71,1607.6 L770.38,1607.55 L774.06,1607.47 L777.74,1607.35 L781.41,1607.21 L785.09,1607.03 L788.76,1606.82 L792.44,1606.58 L796.12,1606.31 L799.79,1606.01 L803.47,1605.68 L807.15,1605.31 L810.82,1604.92 L814.5,1604.49 L818.17,1604.03 L821.85,1603.54 L825.53,1603.02 L829.2,1602.46 L832.88,1601.88 L836.56,1601.26 L840.23,1600.61 L843.91,1599.93 L847.58,1599.22 L851.26,1598.48 L854.94,1597.71 L858.61,1596.9 L862.29,1596.07 L865.97,1595.2 L869.64,1594.3 L873.32,1593.37 L876.99,1592.41 L880.67,1591.41 L884.35,1590.39 L888.02,1589.33 L891.7,1588.24" fill="none" stroke="#000" stroke-width="2.0"/>
<path d="M674.8,1498.21 L678.48,1500.39 L682.15,1502.5 L685.83,1504.53 L689.51,1506.49 L693.18,1508.37 L696.86,1510.17 L700.53,1511.9 L704.21,1513.55 L707.89,1515.12 L711.56,1516.61 L715.24,1518.03 L718.92,1519.37 L722.59,1520.64 L726.27,1521.83 L729.94,1522.94 L733.62,1523.98 L737.3,1524.93 L740.97,1525.82 L744.65,1526.62 L748.33,1527.35 L752,1528 L755.68,1528.58 L759.35,1529.08 L763.03,1529.5 L766.71,1529.84 L770.38,1530.11 L774.06,1530.3 L777.74,1530.42 L781.41,1530.46 L785.09,1530.42 L788.76,1530.3 L792.44,1530.11 L796.12,1529.84 L799.79,1529.5 L803.47,1529.07 L807.15,1528.58 L810.82,1528 L814.5,1527.35 L818.17,1526.62 L821.85,1525.81 L825.53,1524.93 L829.2,1523.97 L832.88,1522.94 L836.56,1521.83 L840.23,1520.64 L843.91,1519.37 L847.58,1518.03 L851.26,1516.61 L854.94,1515.11 L858.61,1513.54 L862.29,1511.89 L865.97,1510.17 L869.64,1508.36 L873.32,1506.48 L876.99,1504.53 L880.67,1502.5 L884.35,1500.39 L888.02,1498.2 L891.7,1495.94" fill="none" stroke="#000" stroke-width="2.0" stroke-dasharray="6.5 5"/>
<line x1="198.1" y1="2247.1" x2="198.1" y2="2271.1" stroke="#7a7a7a" stroke-width="1.6"/>
<line x1="198" y1="2247.1" x2="202.6" y2="2247.1" stroke="#7a7a7a" stroke-width="1.6"/>
<line x1="198" y1="2271.1" x2="202.6" y2="2271.1" stroke="#7a7a7a" stroke-width="1.6"/>
<line x1="373.6" y1="2256.8" x2="373.6" y2="2280.5" stroke="#7a7a7a" stroke-width="1.6"/>
<line x1="369.1" y1="2256.8" x2="378.1" y2="2256.8" stroke="#7a7a7a" stroke-width="1.6"/>
<line x1="369.1" y1="2280.5" x2="378.1" y2="2280.5" stroke="#7a7a7a" stroke-width="1.6"/>
<line x1="549.5" y1="2261.8" x2="549.5" y2="2285.4" stroke="#7a7a7a" stroke-width="1.6"/>
<line x1="545" y1="2261.8" x2="554" y2="2261.8" stroke="#7a7a7a" stroke-width="1.6"/>
<line x1="545" y1="2285.4" x2="554" y2="2285.4" stroke="#7a7a7a" stroke-width="1.6"/>
<line x1="901.2" y1="2267.1" x2="901.2" y2="2290.7" stroke="#7a7a7a" stroke-width="1.6"/>
<line x1="896.7" y1="2267.1" x2="905.7" y2="2267.1" stroke="#7a7a7a" stroke-width="1.6"/>
<line x1="896.7" y1="2290.7" x2="905.7" y2="2290.7" stroke="#7a7a7a" stroke-width="1.6"/>
<circle cx="198.1" cy="2258.9" r="9.85" fill="#fff" stroke="#000" stroke-width="1.3"/>
<circle cx="373.6" cy="2268.4" r="9.85" fill="#fff" stroke="#000" stroke-width="1.3"/>
<circle cx="549.5" cy="2273.7" r="9.85" fill="#fff" stroke="#000" stroke-width="1.3"/>
<circle cx="901.2" cy="2279.4" r="9.85" fill="#fff" stroke="#000" stroke-width="1.3"/>
<circle cx="198.2" cy="2019.5" r="10.4" fill="#000"/>
<line x1="198.2" y1="2010" x2="198.2" y2="2029" stroke="#000" stroke-width="1.6"/>
<line x1="198" y1="2010" x2="202.4" y2="2010" stroke="#000" stroke-width="1.6"/>
<line x1="198" y1="2029" x2="202.4" y2="2029" stroke="#000" stroke-width="1.6"/>
<circle cx="373.6" cy="2050" r="10.4" fill="#000"/>
<line x1="373.6" y1="2040.5" x2="373.6" y2="2059.5" stroke="#000" stroke-width="1.6"/>
<line x1="369.4" y1="2040.5" x2="377.8" y2="2040.5" stroke="#000" stroke-width="1.6"/>
<line x1="369.4" y1="2059.5" x2="377.8" y2="2059.5" stroke="#000" stroke-width="1.6"/>
<circle cx="549.5" cy="2040.4" r="10.4" fill="#000"/>
<line x1="549.5" y1="2030.9" x2="549.5" y2="2049.9" stroke="#000" stroke-width="1.6"/>
<line x1="545.3" y1="2030.9" x2="553.7" y2="2030.9" stroke="#000" stroke-width="1.6"/>
<line x1="545.3" y1="2049.9" x2="553.7" y2="2049.9" stroke="#000" stroke-width="1.6"/>
<circle cx="901.4" cy="2051.4" r="10.4" fill="#000"/>
<line x1="901.4" y1="2041.9" x2="901.4" y2="2060.9" stroke="#000" stroke-width="1.6"/>
<line x1="897.2" y1="2041.9" x2="905.6" y2="2041.9" stroke="#000" stroke-width="1.6"/>
<line x1="897.2" y1="2060.9" x2="905.6" y2="2060.9" stroke="#000" stroke-width="1.6"/>
<path d="M198.0,2029.7 L901.4,2054.4" fill="none" stroke="#000" stroke-width="2.0"/>
<rect x="670.9" y="2319.4" width="246.9" height="52.2" fill="#fff" stroke="#000" stroke-width="2.6"/>
<text transform="translate(685.5,2357.2) scale(1,1.035)" font-size="32" text-anchor="start" font-weight="normal" font-style="normal" ><tspan font-style="italic">P</tspan><tspan font-size="21" dy="7.3">lin</tspan><tspan dy="-7.3"> = 0.063</tspan></text>
<text transform="translate(91.4,2122.3) rotate(-90) scale(1,0.985)" font-size="39.7" text-anchor="middle" font-weight="bold" font-style="normal" >Final internode length (cm)</text>
<text transform="translate(1036.2,2140.9) rotate(90) scale(1,0.985)" font-size="39.7" text-anchor="middle" font-weight="bold" font-style="normal" >Intermediate internode length (cm)</text>
<text transform="translate(198,2431.3) scale(1,1.035)" font-size="32" text-anchor="middle" font-weight="normal" font-style="normal" >0</text>
<text transform="translate(315.2,2431.3) scale(1,1.035)" font-size="32" text-anchor="middle" font-weight="normal" font-style="normal" >4</text>
<text transform="translate(432.4,2431.3) scale(1,1.035)" font-size="32" text-anchor="middle" font-weight="normal" font-style="normal" >8</text>
<text transform="translate(549.6,2431.3) scale(1,1.035)" font-size="32" text-anchor="middle" font-weight="normal" font-style="normal" >12</text>
<text transform="translate(666.8,2431.3) scale(1,1.035)" font-size="32" text-anchor="middle" font-weight="normal" font-style="normal" >16</text>
<text transform="translate(784,2431.3) scale(1,1.035)" font-size="32" text-anchor="middle" font-weight="normal" font-style="normal" >20</text>
<text transform="translate(901.2,2431.3) scale(1,1.035)" font-size="32" text-anchor="middle" font-weight="normal" font-style="normal" >24</text>
<text transform="translate(561.5,2486.2) scale(1,0.985)" font-size="39.7" text-anchor="middle" font-weight="bold" font-style="normal" >%B in supplemental lighting</text>
</g></svg>
</body></html>
